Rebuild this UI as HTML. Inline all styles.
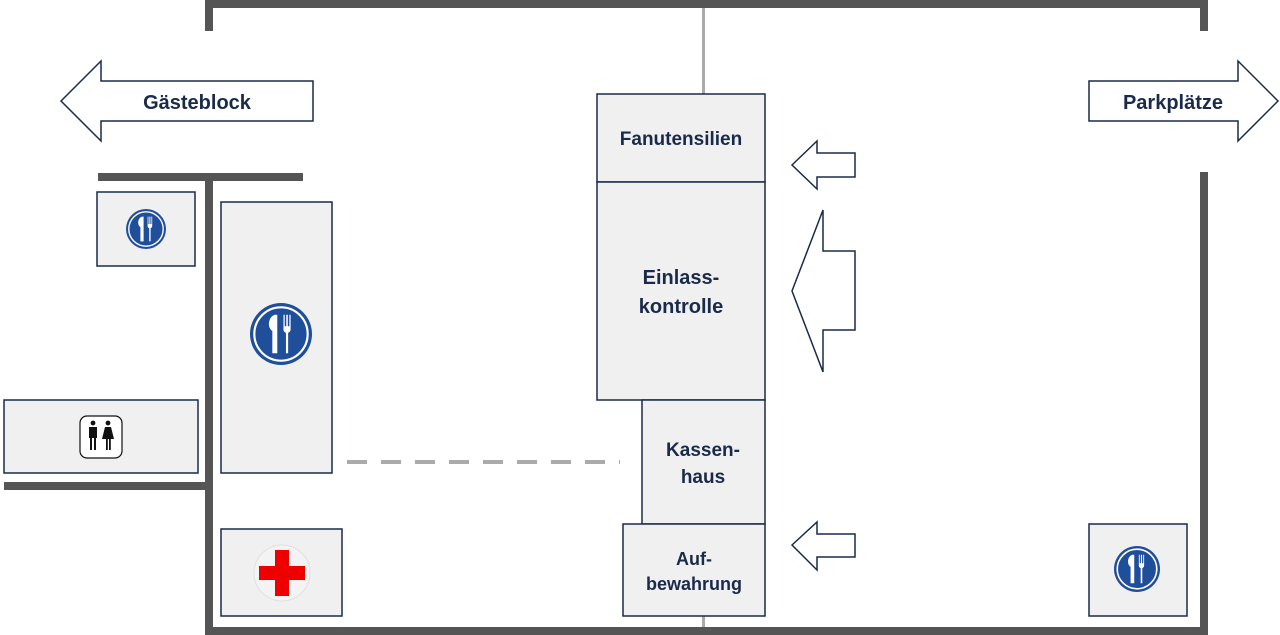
<!DOCTYPE html>
<html><head><meta charset="utf-8"><style>
html,body{margin:0;padding:0;background:#fff;}
svg{display:block;}
text{font-family:"Liberation Sans",sans-serif;font-weight:bold;fill:#1a2a4a;}
</style></head><body>
<svg width="1280" height="635" viewBox="0 0 1280 635" xmlns="http://www.w3.org/2000/svg">
<defs>
<g id="food">
<circle r="1" fill="#1f4e9a"/>
<circle r="0.86" fill="none" stroke="#fff" stroke-width="0.07"/>
<path d="M-0.28,0.62 L-0.28,-0.1 C-0.45,-0.2 -0.42,-0.55 -0.2,-0.62 L-0.12,-0.62 L-0.12,0.62 Z" fill="#fff"/>
<path d="M0.08,-0.62 L0.12,-0.62 L0.12,-0.25 L0.17,-0.25 L0.17,-0.62 L0.22,-0.62 L0.22,-0.25 L0.27,-0.25 L0.27,-0.62 L0.31,-0.62 L0.31,-0.15 C0.31,-0.08 0.26,-0.05 0.23,-0.04 L0.23,0.62 L0.16,0.62 L0.16,-0.04 C0.12,-0.05 0.08,-0.08 0.08,-0.15 Z" fill="#fff"/>
</g>
</defs>
<g fill="#555">
<rect x="205" y="0" width="1003" height="8"/>
<rect x="205" y="0" width="8" height="31"/>
<rect x="1200" y="0" width="8" height="31"/>
<rect x="1200" y="172" width="8" height="463"/>
<rect x="205" y="627" width="1003" height="8"/>
<rect x="205" y="178" width="8" height="457"/>
<rect x="98" y="173" width="205" height="8"/>
<rect x="4" y="482" width="209" height="8"/>
</g>
<rect x="702" y="8" width="3" height="86" fill="#aaa"/>
<rect x="702" y="616" width="3" height="11" fill="#aaa"/>
<line x1="347" y1="462" x2="620" y2="462" stroke="#aaa" stroke-width="4" stroke-dasharray="20,14"/>
<g fill="#f0f0f0" stroke="#1a2a4a" stroke-width="1.5">
<rect x="97" y="192" width="98" height="74"/>
<rect x="221" y="202" width="111" height="271"/>
<rect x="4" y="400" width="194" height="73"/>
<rect x="221" y="529" width="121" height="87"/>
<rect x="597" y="94" width="168" height="88"/>
<rect x="597" y="182" width="168" height="218"/>
<rect x="642" y="400" width="123" height="124"/>
<rect x="623" y="524" width="142" height="92"/>
<rect x="1089" y="524" width="98" height="92"/>
</g>
<g fill="#fff" stroke="#1a2a4a" stroke-width="1.5">
<polygon points="61,101 101,61 101,81 313,81 313,121 101,121 101,141"/>
<polygon points="1278,101 1238,61 1238,81 1089,81 1089,121 1238,121 1238,141"/>
<polygon points="792,165 817,141 817,153 855,153 855,177 817,177 817,189"/>
<polygon points="792,291 823,210 823,251 855,251 855,330 823,330 823,372"/>
<polygon points="792,545 817,522 817,534 855,534 855,557 817,557 817,570"/>
</g>
<text x="197" y="109" font-size="20" text-anchor="middle">Gästeblock</text>
<text x="1173" y="109" font-size="20" text-anchor="middle">Parkplätze</text>
<text x="681" y="145" font-size="19" text-anchor="middle">Fanutensilien</text>
<text x="681" y="284" font-size="20" text-anchor="middle">Einlass-</text>
<text x="681" y="313" font-size="20" text-anchor="middle">kontrolle</text>
<text x="703" y="456" font-size="19" text-anchor="middle">Kassen-</text>
<text x="703" y="483" font-size="19" text-anchor="middle">haus</text>
<text x="694" y="565" font-size="18" text-anchor="middle">Auf-</text>
<text x="694" y="590" font-size="18" text-anchor="middle">bewahrung</text>
<use href="#food" transform="translate(146,229) scale(20)"/>
<use href="#food" transform="translate(281,334) scale(31)"/>
<use href="#food" transform="translate(1137,569) scale(23)"/>
<circle cx="282" cy="573" r="28" fill="#f3f3f3" stroke="#e0e0e0" stroke-width="1"/>
<path d="M275,550 h14 v16 h16 v14 h-16 v16 h-14 v-16 h-16 v-14 h16 z" fill="#e00"/>
<rect x="80" y="416" width="42" height="42" rx="7" fill="#fff" stroke="#111" stroke-width="1.2"/>
<g fill="#111">
<circle cx="93" cy="423" r="2.4"/>
<rect x="89" y="427" width="8" height="11"/>
<rect x="90" y="437" width="2" height="13"/>
<rect x="94" y="437" width="2" height="13"/>
<circle cx="108" cy="423" r="2.4"/>
<path d="M105,427 h6 l3,12 h-12 z"/>
<rect x="106" y="438" width="1.8" height="12"/>
<rect x="109" y="438" width="1.8" height="12"/>
</g>
</svg>
</body></html>
